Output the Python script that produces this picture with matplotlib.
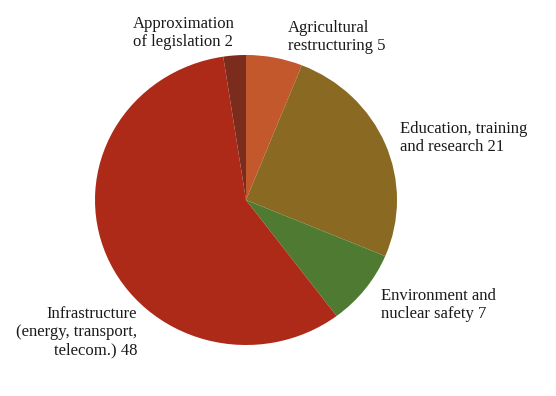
import matplotlib.pyplot as plt

# PHARE allocation shares, clockwise from 12 o'clock
labels = ['Agricultural\nrestructuring 5',
          'Education, training\nand research 21',
          'Environment and\nnuclear safety 7',
          'Infrastructure\n(energy, transport,\ntelecom.) 48',
          'Approximation\nof legislation 2']
values = [5, 21, 7, 48, 2]
colors = ['#c2582c', '#8a6a22', '#4f7a32', '#ae2a18', '#7c2c1c']

W, H = 556, 396

fig = plt.figure(figsize=(W / 100, H / 100), dpi=100)
fig.patch.set_facecolor('white')

# pie occupies a box in pixel space
px_left, px_top, px_w, px_h = 95, 55, 302, 290
ax = fig.add_axes([px_left / W, 1 - (px_top + px_h) / H, px_w / W, px_h / H])
ax.pie(values, colors=colors, startangle=90, counterclock=False,
       wedgeprops=dict(linewidth=0))
ax.set_aspect('auto')
ax.set_xlim(-1, 1)
ax.set_ylim(-1, 1)
ax.axis('off')

font = dict(family='Liberation Serif', fontsize=12, color='#1a1a1a',
            linespacing=1.18)

# label anchors (pixels): x, top y, horizontal alignment
spots = [(288, 20, 'left'),
         (400, 121, 'left'),
         (381, 288, 'left'),
         (137, 306, 'right'),
         (133, 16, 'left')]

for lab, (x, y, ha) in zip(labels, spots):
    fig.text(x / W, 1 - y / H, lab, ha=ha, va='top', multialignment=ha, **font)

fig.savefig('out.png', dpi=100)
